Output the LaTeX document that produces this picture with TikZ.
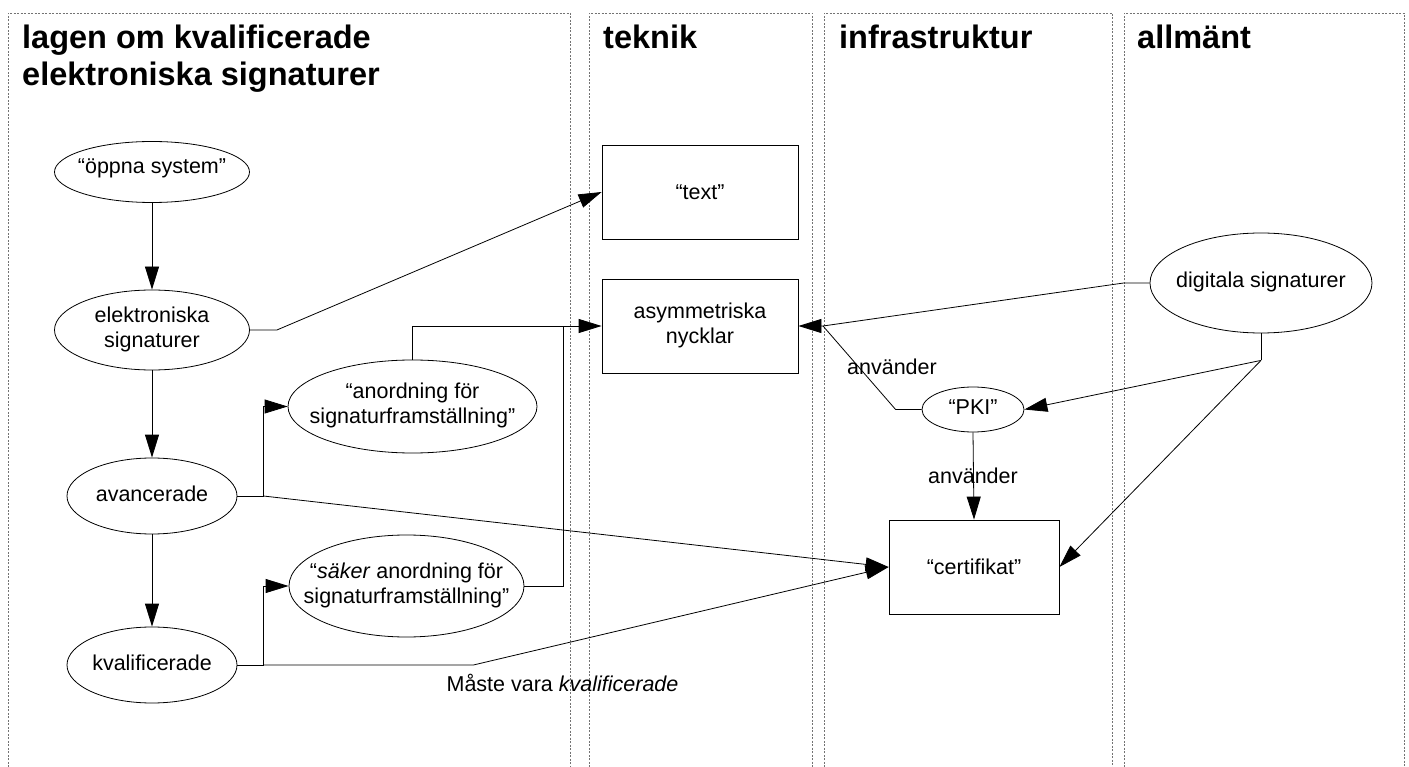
\documentclass[tikz,border=0pt]{standalone}
\usepackage{fontspec}
\setmainfont{Liberation Sans}
\usetikzlibrary{arrows.meta,shapes.geometric}
% centred multi-line text that does not widen the surrounding shape
\newcommand\ovaltext[1]{\makebox[0pt]{\begin{tabular}{@{}c@{}}#1\end{tabular}}}

\begin{document}
\begin{tikzpicture}[x=1pt,y=-1pt,
  lane/.style={draw=black!55, line width=0.7pt, dash pattern=on 2pt off 1.5pt},
  lanetitle/.style={anchor=base west, align=left, inner sep=0pt,
    font=\fontsize{32.5pt}{37pt}\selectfont\bfseries},
  txt/.style={font=\fontsize{21.5pt}{25pt}\selectfont},
  oval/.style={txt, draw, ellipse, inner sep=0pt, line width=0.8pt},
  box/.style={txt, draw, rectangle, inner sep=0pt, line width=0.8pt,
    minimum width=196pt, minimum height=94pt},
  conn/.style={line width=0.8pt},
  arr/.style={conn, -{Triangle[length=23pt,width=14pt]}},
  lbl/.style={txt, anchor=base, inner sep=0pt},
]
\useasboundingbox (0,0) rectangle (1409,767);
\fill[white] (0,0) rectangle (1409,767);

% swim lanes, open at the bottom
\draw[lane] (8,767)    -- (8,13)    -- (570,13)  -- (570,767);
\draw[lane] (589,767)  -- (589,13)  -- (812,13)  -- (812,767);
\draw[lane] (824,767)  -- (824,13)  -- (1112,13) -- (1112,767);
\draw[lane] (1124,767) -- (1124,13) -- (1404,13) -- (1404,767);

% lane titles (a two-line node sits on the baseline of its last line)
\node[lanetitle] (t1) at (22,85.5) {lagen om kvalificerade\\elektroniska signaturer};
\node[lanetitle] (t2) at (603,48.5) {teknik};
\node[lanetitle] (t3) at (839,48.5) {infrastruktur};
\node[lanetitle] (t4) at (1137,48.5) {allmänt};

% law column
\node[oval, minimum width=195pt, minimum height=61pt] (oppna) at (152,172) {\ovaltext{\raisebox{4pt}{“öppna system”}}};
\node[oval, minimum width=195pt, minimum height=80pt] (elek) at (152,330) {\ovaltext{elektroniska\\signaturer}};
\node[oval, minimum width=170pt, minimum height=76pt] (avan) at (152,496) {\ovaltext{avancerade}};
\node[oval, minimum width=170pt, minimum height=76pt] (kval) at (152,665) {\ovaltext{kvalificerade}};
\node[oval, minimum width=249pt, minimum height=93pt] (anord) at (412.5,406.5) {\ovaltext{“anordning för\\signaturframställning”}};
\node[oval, minimum width=235pt, minimum height=102pt] (saker) at (406.5,586) {\ovaltext{“\textit{säker} anordning för\\signaturframställning”}};

% technology column
\node[box] (text) at (700,192) {“text”};
\node[box] (asym) at (700,326) {\ovaltext{asymmetriska\\nycklar}};

% infrastructure column
\node[oval, minimum width=102pt, minimum height=45pt] (pki) at (973,409.5) {\ovaltext{“PKI”}};
\node[box, minimum width=170pt] (cert) at (974,567) {“certifikat”};

% general column
\node[oval, minimum width=222pt, minimum height=100pt] (digi) at (1261,283) {\ovaltext{digitala signaturer}};

\coordinate (join) at (563,326);
\coordinate (kp) at (823,326);

% connectors
\draw[arr] (oppna.south) -- (elek.north);
\draw[arr] (elek.south) -- (avan.north);
\draw[arr] (avan.south) -- (kval.north);
\draw[arr] (elek.east) -- ++(27,0) -- (text.west);
\draw[arr] (anord.north) |- (asym.west);
\draw[conn] (saker.east) -| (join);
\draw[arr] (avan.east) -- ++(26,0) coordinate (ab) |- (anord.west);
\draw[arr] (ab) -- (cert.west);
\draw[arr] (kval.east) -- ++(26,0) coordinate (kb) |- (saker.west);
\draw[arr] (kb) -- ++(210,0) -- (cert.west);
\draw[arr] (digi.west) -- ++(-26,0) -- (kp) -- (asym.east);
\draw[conn] (pki.west) -- ++(-26,0) -- (kp);
\draw[arr] (pki.south) -- (cert.north);
\draw[conn] (digi.south) -- ++(0,27) coordinate (db);
\draw[arr] (db) -- (pki.east);
\draw[arr] (db) -- (cert.east);

% connector labels
\node[lbl] (u1) at (892,375) {använder};
\node[lbl] (u2) at (973,483) {använder};
\node[lbl] (mv) at (562.5,691.7) {Måste vara \textit{kvalificerade}};
\end{tikzpicture}
\end{document}
